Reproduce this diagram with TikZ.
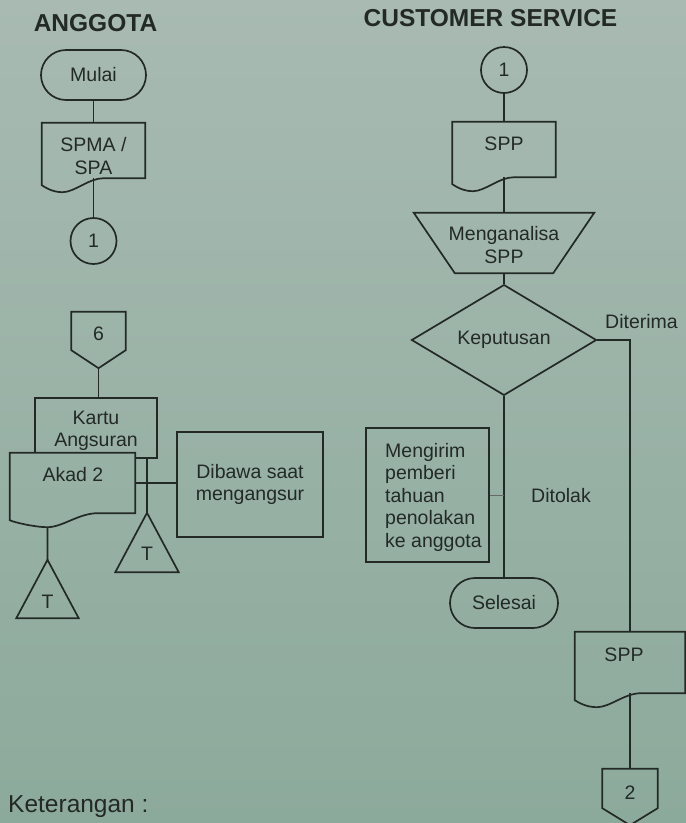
\documentclass[tikz,border=0pt]{standalone}
\usepackage{fontspec}
\setmainfont{Liberation Sans}
\usetikzlibrary{shapes.geometric,shapes.misc,calc}
\definecolor{papertop}{RGB}{168,186,178}
\definecolor{paperbot}{RGB}{140,170,155}
\definecolor{ink}{RGB}{35,42,38}
\newcommand\docshape[2]{%
 \pgfmathsetmacro\dA{#2+0.4}%
 \pgfmathsetmacro\dB{#2+0.25}%
 \pgfmathsetmacro\dC{#2+0.12}%
 \pgfmathsetmacro\dD{#2-0.1}%
 \draw[shp] (#1.north west) -- (#1.north east) -- (#1.south east)
  -- ($(#1.south west)!\dA!(#1.south east)$)
  .. controls ($(#1.south west)!\dB!(#1.south east)$) and ($(#1.south west)!\dC!(#1.south east)+(0,14)$)
  .. ($(#1.south west)!#2!(#1.south east)+(0,14)$)
  .. controls ($(#1.south west)!\dD!(#1.south east)+(0,14)$) and ($(#1.south west)!0.03!(#1.south east)+(0,9)$)
  .. ($(#1.south west)+(0,7)$) -- cycle;}
\begin{document}
\begin{tikzpicture}[x=1pt,y=-1pt,
 txt/.style={text=ink,font=\fontsize{19.5}{22.5}\selectfont,inner sep=0pt},
 shp/.style={draw=ink,line width=1.7pt,line join=miter},
 conn/.style={draw=ink,line width=1.7pt},
 thinconn/.style={draw=ink!70,line width=0.8pt},
 box/.style={txt,draw=ink,line width=1.7pt,rectangle},
 term/.style={txt,draw=ink,line width=1.7pt,rounded rectangle},
 conncirc/.style={txt,draw=ink,line width=1.7pt,circle,minimum size=46pt},
 area/.style={rectangle,inner sep=0pt,draw=none},
 title/.style={text=ink,inner sep=0pt,font=\bfseries\fontsize{24.5}{28}\selectfont}]
\useasboundingbox (0,0) rectangle (686,823);
\shade[top color=papertop,bottom color=paperbot] (0,0) rectangle (686,823);

% titles
\node[title] (t1) at (95.5,23.5) {ANGGOTA};
\node[title] (t2) at (490.5,18.5) {CUSTOMER SERVICE};

% left column
\node[term,minimum width=105pt,minimum height=50pt] (mulai) at (93.5,75) {Mulai};
\node[area,minimum width=103pt,minimum height=55pt] (spma) at (93.5,150.5) {};
\node[txt,align=center] (spmat) at (93.5,156) {SPMA /\\SPA};
\node[conncirc] (c1a) at (93.5,241) {1};

\node[area,minimum width=54pt,minimum height=38pt] (c6) at (98.5,331) {};
\coordinate (c6tip) at ($(c6.south)+(0,18)$);
\node[txt] (c6t) at (98.5,334) {6};

\node[area,minimum width=122pt,minimum height=60pt] (kartu) at (96,428) {};
\node[txt,align=center] (kartut) at (96,431) {Kartu\\Angsuran};
\node[area,minimum width=125pt,minimum height=60pt] (akad) at (72.5,483) {};
\node[txt] (akadt) at (73,475) {Akad 2};
\coordinate (akadlow) at ($(akad.south west)!0.3!(akad.south east)+(0,14)$);
\node[box,align=center,minimum width=146pt,minimum height=105pt] (dib) at (250,484.5) {Dibawa saat\\mengangsur};
\node[area,minimum width=62pt,minimum height=58pt] (tri1) at (47.5,589) {};
\node[txt] (tri1t) at (47.5,602) {T};
\node[area,minimum width=63pt,minimum height=59pt] (tri2) at (147,542.5) {};
\node[txt] (tri2t) at (147,554) {T};

% right column
\node[conncirc] (c1b) at (504,70) {1};
\node[area,minimum width=103pt,minimum height=55pt] (spp1) at (504,149.5) {};
\node[txt] (spp1t) at (504,143.5) {SPP};
\node[area,minimum width=98pt,minimum height=60pt] (ana) at (504,243) {};
\node[txt,align=center] (anat) at (504,245) {Menganalisa\\SPP};
\node[txt,draw=ink,line width=1.7pt,diamond,minimum width=185pt,minimum height=99pt] (kep) at (504,340) {Keputusan};
\node[txt,anchor=base west] (diterima) at (605,328) {Diterima};
\node[txt,anchor=base west] (ditolak) at (531,502) {Ditolak};
\node[area,draw=ink,line width=1.7pt,minimum width=123pt,minimum height=134pt] (meng) at (427.5,495) {};
\node[txt,anchor=north west,align=left] (mengt) at (385,443) {Mengirim\\pemberi\\tahuan\\penolakan\\ke anggota};
\node[term,minimum width=108pt,minimum height=50pt] (selesai) at (504,603) {Selesai};
\node[area,minimum width=110pt,minimum height=61pt] (spp2) at (630,662.5) {};
\node[txt] (spp2t) at (624,655) {SPP};
\node[area,minimum width=55pt,minimum height=39pt] (c2) at (630,788.5) {};
\coordinate (c2tip) at ($(c2.south)+(0,17)$);
\node[txt] (c2t) at (630,792.5) {2};

\node[txt,anchor=base west,font=\fontsize{24.5}{28}\selectfont] (ket) at (8,812) {Keterangan :};

% connectors
\draw[conn] (mulai.south) -- (spma.north);
\draw[conn] (spma.south) -- (c1a.north);
\draw[conn] (c1b.south) -- (spp1.north);
\draw[conn] (spp1.south) -- (ana.north);
\draw[conn] (ana.south) -- (kep.north);
\draw[conn] (kep.east) -| (spp2.north);
\draw[conn] (kep.south) -- (selesai.north);
\draw[thinconn] (meng.east) -- (meng.east -| kep.south);
\draw[conn] (spp2.south) -- (c2.north);
\draw[conn] (c6tip) -- (c6tip |- kartu.north);
\draw[conn] (tri2.north |- kartu.south) -- (tri2.north);
\draw[conn] (akad.east) -- (akad.east -| dib.west);
\draw[conn] (akadlow) -- (tri1.north);

% custom shapes
\docshape{spma}{0.2}
\docshape{spp1}{0.2}
\docshape{spp2}{0.2}
\docshape{akad}{0.3}
\draw[shp] (kartu.north west |- akad.north) -- (kartu.north west) -- (kartu.north east) -- (kartu.south east) -- (kartu.south east -| akad.east);
\draw[shp] (c6.north west) -- (c6.north east) -- (c6.south east) -- (c6tip) -- (c6.south west) -- cycle;
\draw[shp] (c2.north west) -- (c2.north east) -- (c2.south east) -- (c2tip) -- (c2.south west) -- cycle;
\draw[shp] (ana.south west) -- (ana.south east) -- ($(ana.north east)+(41,0)$) -- ($(ana.north west)+(-41,0)$) -- cycle;
\draw[shp] (tri1.north) -- (tri1.south east) -- (tri1.south west) -- cycle;
\draw[shp] (tri2.north) -- (tri2.south east) -- (tri2.south west) -- cycle;
\end{tikzpicture}
\end{document}
